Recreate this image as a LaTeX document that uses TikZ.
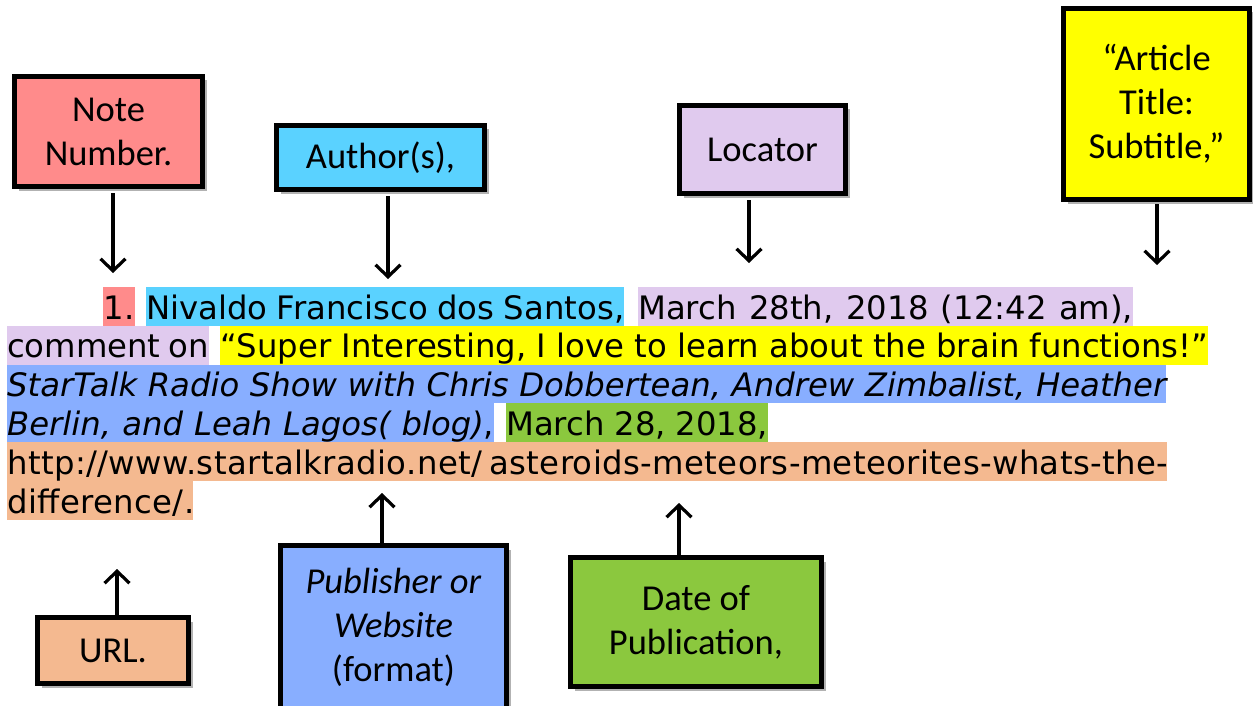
\documentclass[tikz,border=0pt]{standalone}
\usepackage{fontspec}
\newfontfamily\verdfont{DejaVu Sans}
\newfontfamily\boxfont{Carlito}
\usetikzlibrary{arrows.meta,shadows}
\definecolor{cNote}{HTML}{FF8B8B}
\definecolor{cAuth}{HTML}{5AD2FF}
\definecolor{cLoc}{HTML}{E0CAEE}
\definecolor{cTitle}{HTML}{FFFF00}
\definecolor{cUrl}{HTML}{F4B990}
\definecolor{cPub}{HTML}{88AEFF}
\definecolor{cDate}{HTML}{8BC83E}
\newcommand\hlw[2]{\makebox[#1][s]{#2}}
\hbadness=10000 \hfuzz=20pt
\begin{document}
\begin{tikzpicture}[x=1pt,y=-1pt,
  lbl/.style={draw=black, line width=5pt, font=\boxfont\fontsize{36.5}{44}\selectfont,
    align=center, inner sep=0pt,
    drop shadow={shadow xshift=4pt, shadow yshift=-4pt, opacity=0.3, fill=black}},
  seg/.style={anchor=base west, inner sep=0pt, text height=32pt, text depth=6.8pt,
    font=\verdfont\fontsize{32.3}{38.8}\selectfont},
  arr/.style={line width=3.2pt, -{Straight Barb[length=12pt,width=25pt]}}]
\useasboundingbox (0,0) rectangle (1253,706);

% label boxes
\node[lbl, fill=cNote, minimum width=188pt, minimum height=110pt] (bNote) at (108.5,131.5) {Note\\Number.};
\node[lbl, fill=cAuth, minimum width=208pt, minimum height=64pt] (bAuth) at (380.5,157.5) {Author(s),};
\node[lbl, fill=cLoc, minimum width=166pt, minimum height=88pt] (bLoc) at (762.5,149.5) {Locator};
\node[lbl, fill=cTitle, minimum width=186pt, minimum height=191pt] (bTitle) at (1156.5,104) {“Article\\Title:\\Subtitle,”};
\node[lbl, fill=cUrl, minimum width=151pt, minimum height=66pt] (bUrl) at (113,650.5) {URL.};
\node[lbl, fill=cPub, minimum width=226pt, minimum height=163pt] (bPub) at (393.5,627) {\textit{Publisher or}\\\textit{Website}\\(format)};
\node[lbl, fill=cDate, minimum width=251pt, minimum height=129pt] (bDate) at (696,622) {Date of\\Publication,};

% highlighted citation text
\node[seg, fill=cNote] (n1) at (103,319) {\makebox[32pt][c]{1.}};
\node[seg, fill=cAuth] (au) at (146,319) {\hlw{478pt}{Nivaldo Francisco dos Santos,}};
\node[seg, fill=cLoc] (dt) at (638,319) {\hlw{495pt}{March 28th, 2018 (12:42 am),}};
\node[seg, fill=cLoc] (cm) at (7,357.8) {\hlw{202pt}{comment on}};
\node[seg, fill=cTitle] (ti) at (220,357.8) {\hlw{988pt}{“Super Interesting, I love to learn about the brain functions!”}};
\node[seg, fill=cPub] (pb1) at (7,396.6) {\hlw{1159pt}{\itshape StarTalk Radio Show with Chris Dobbertean, Andrew Zimbalist, Heather}};
\node[seg, fill=cPub] (pb2) at (7,435.4) {\hlw{487pt}{\textit{Berlin, and Leah Lagos( blog)},}};
\node[seg, fill=cDate] (dp) at (506,435.4) {\hlw{262pt}{March 28, 2018,}};
\node[seg, fill=cUrl] (u1) at (7,474.2) {\hlw{1160pt}{\addfontfeatures{LetterSpace=1.2}http://www.startalkradio.net/ asteroids-meteors-meteorites-whats-the-}};
\node[seg, fill=cUrl] (u2) at (7,513) {\makebox[186pt][l]{\addfontfeatures{LetterSpace=1.2}difference/.}};

% arrow targets
\coordinate (tNote) at (113,273);
\coordinate (tAuth) at (388,279);
\coordinate (tLoc) at (749,263);
\coordinate (tTitle) at (1157,265);
\coordinate (tUrl) at (117,569);
\coordinate (tPub) at (382,493);
\coordinate (tDate) at (679,503);

\draw[arr, shorten <=4pt] (bNote.south -| tNote) -- (tNote);
\draw[arr, shorten <=4pt] (bAuth.south -| tAuth) -- (tAuth);
\draw[arr, shorten <=4pt] (bLoc.south -| tLoc) -- (tLoc);
\draw[arr, shorten <=2pt] (bTitle.south -| tTitle) -- (tTitle);
\draw[arr] (bUrl.north -| tUrl) -- (tUrl);
\draw[arr] (bPub.north -| tPub) -- (tPub);
\draw[arr] (bDate.north -| tDate) -- (tDate);
\end{tikzpicture}
\end{document}
